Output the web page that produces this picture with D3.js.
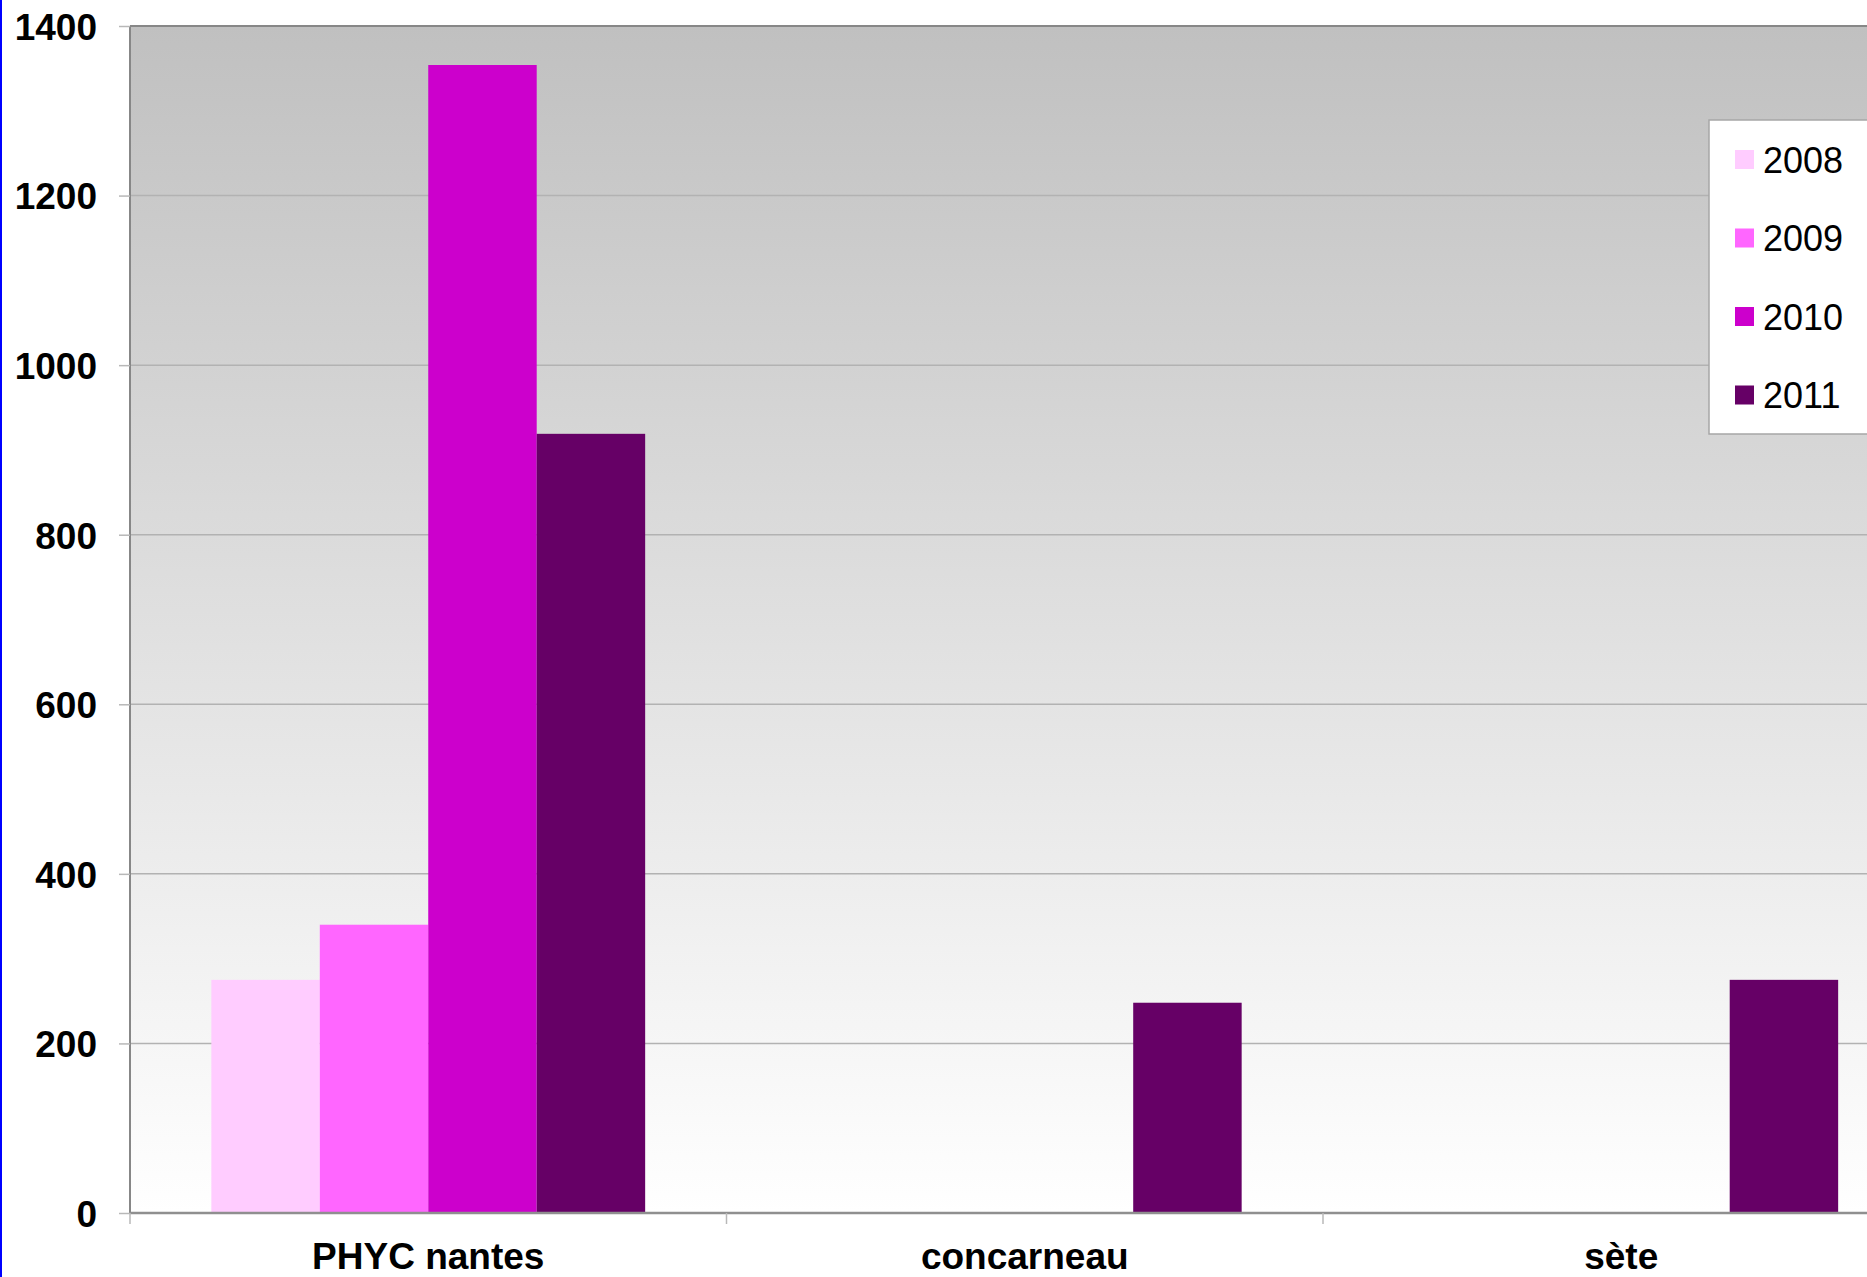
<!DOCTYPE html>
<html>
<head>
<meta charset="utf-8">
<script src="https://cdn.jsdelivr.net/npm/d3@7"></script>
<style>
  body { margin: 0; background: #fff; }
  svg { display: block; }
</style>
</head>
<body>
<div id="figure"></div>
<script>
// data
var categories = ["PHYC nantes", "concarneau", "sète"];
var years = ["2008", "2009", "2010", "2011"];
var v2008 = [275, 0, 0];
var v2009 = [340, 0, 0];
var v2010 = [1354, 0, 0];
var v2011 = [919, 248, 275];
var yTicks = [0, 200, 400, 600, 800, 1000, 1200, 1400];
var colors = ["#ffccff", "#ff66ff", "#cc00cc", "#660066"];

var series = [v2008, v2009, v2010, v2011];

const W = 1867, H = 1277;
const plotLeft = 130, plotTop = 26, plotBottom = 1213;
const catWidth = 596.5;

const svg = d3.select("#figure")
  .append("svg")
  .attr("width", W)
  .attr("height", H);

// background gradient of the plot area
const defs = svg.append("defs");
const grad = defs.append("linearGradient")
  .attr("id", "bg").attr("x1", 0).attr("y1", 0).attr("x2", 0).attr("y2", 1);
grad.append("stop").attr("offset", "0%").attr("stop-color", "#c0c0c0");
grad.append("stop").attr("offset", "100%").attr("stop-color", "#ffffff");

const x = d3.scaleBand().domain(categories)
  .range([plotLeft, plotLeft + catWidth * categories.length]);
const x1 = d3.scaleBand().domain(years)
  .range([0, x.bandwidth()])
  .paddingOuter(0.75);
const y = d3.scaleLinear().domain([0, 1400]).range([plotBottom, plotTop]);

// plot area
svg.append("rect")
  .attr("x", plotLeft).attr("y", plotTop)
  .attr("width", x.range()[1] - plotLeft)
  .attr("height", plotBottom - plotTop)
  .attr("fill", "url(#bg)");

// gridlines
svg.append("g").selectAll("line")
  .data(yTicks.filter(d => d > 0 && d < 1400))
  .join("line")
  .attr("x1", plotLeft).attr("x2", x.range()[1])
  .attr("y1", d => y(d)).attr("y2", d => y(d))
  .attr("stroke", "#b2b2b2")
  .attr("stroke-width", 1.5);

// bars
const groups = svg.append("g").selectAll("g")
  .data(series)
  .join("g")
  .attr("fill", (d, i) => colors[i]);

groups.selectAll("rect")
  .data((d, i) => d.map((v, j) => ({cat: categories[j], year: years[i], value: v})))
  .join("rect")
  .filter(d => d.value > 0)
  .attr("x", d => x(d.cat) + x1(d.year))
  .attr("y", d => y(d.value))
  .attr("width", x1.bandwidth())
  .attr("height", d => y(0) - y(d.value));

// plot borders
svg.append("line")
  .attr("x1", plotLeft).attr("x2", x.range()[1])
  .attr("y1", plotTop).attr("y2", plotTop)
  .attr("stroke", "#878787").attr("stroke-width", 2);
svg.append("line")
  .attr("x1", plotLeft).attr("x2", plotLeft)
  .attr("y1", plotTop).attr("y2", plotBottom + 1)
  .attr("stroke", "#878787").attr("stroke-width", 2);
svg.append("line")
  .attr("x1", plotLeft).attr("x2", x.range()[1])
  .attr("y1", plotBottom).attr("y2", plotBottom)
  .attr("stroke", "#8f8f8f").attr("stroke-width", 2.5);

// y axis
const yAxis = d3.axisLeft(y).tickValues(yTicks).tickSize(11).tickPadding(22)
  .tickFormat(d3.format("d"));
const ya = svg.append("g")
  .attr("transform", `translate(${plotLeft},0)`)
  .call(yAxis);
ya.select(".domain").remove();
ya.selectAll(".tick line").attr("stroke", "#b8b8b8").attr("stroke-width", 1.5);
ya.selectAll(".tick text")
  .attr("font-family", "'Liberation Sans', Arial, sans-serif")
  .attr("font-weight", "bold")
  .attr("font-size", 37)
  .attr("fill", "#000")
  .attr("dy", "0.36em");

// category boundary ticks
const bounds = categories.map(c => x(c)).concat([x.range()[1]]);
svg.append("g").selectAll("line")
  .data(bounds)
  .join("line")
  .attr("x1", d => d).attr("x2", d => d)
  .attr("y1", plotBottom).attr("y2", plotBottom + 11)
  .attr("stroke", "#b8b8b8").attr("stroke-width", 1.5);

// category labels
svg.append("g").selectAll("text")
  .data(categories)
  .join("text")
  .attr("x", d => x(d) + x.bandwidth() / 2)
  .attr("y", 1269)
  .attr("text-anchor", "middle")
  .attr("font-family", "'Liberation Sans', Arial, sans-serif")
  .attr("font-weight", "bold")
  .attr("font-size", 37)
  .text(d => d);

// legend
const legend = svg.append("g").attr("transform", "translate(1709,120)");
legend.append("rect")
  .attr("x", 0).attr("y", 0)
  .attr("width", 200).attr("height", 314)
  .attr("fill", "#fff")
  .attr("stroke", "#a6a6a6").attr("stroke-width", 1.5);
const items = legend.selectAll("g.item")
  .data(years)
  .join("g")
  .attr("class", "item")
  .attr("transform", (d, i) => `translate(0,${39.5 + i * 78.5})`);
items.append("rect")
  .attr("x", 26).attr("y", -9.5)
  .attr("width", 19).attr("height", 19)
  .attr("fill", (d, i) => colors[i]);
items.append("text")
  .attr("x", 54).attr("y", 13)
  .attr("font-family", "'Liberation Sans', Arial, sans-serif")
  .attr("font-size", 36)
  .text(d => d);

// thin blue frame edge on the left
svg.append("rect")
  .attr("x", 0).attr("y", 0)
  .attr("width", 2).attr("height", H)
  .attr("fill", "#0000ff");
</script>
</body>
</html>
